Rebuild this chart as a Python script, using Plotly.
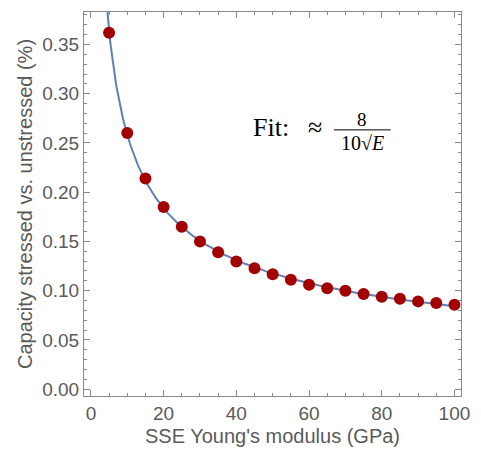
import numpy as np
import plotly.graph_objects as go

# Data
modulus_gpa = [5, 10, 15, 20, 25, 30, 35, 40, 45, 50, 55, 60, 65, 70, 75, 80, 85, 90, 95, 100]
capacity_ratio = [0.362, 0.260, 0.214, 0.185, 0.165, 0.150, 0.139, 0.1295, 0.1227, 0.1167,
                  0.111, 0.1059, 0.1025, 0.0998, 0.0965, 0.0937, 0.0917, 0.0891, 0.0874, 0.0857]

x_ticks = [0, 20, 40, 60, 80, 100]
y_ticks = [0.00, 0.05, 0.10, 0.15, 0.20, 0.25, 0.30, 0.35]
y_tick_labels = ["0.00", "0.05", "0.10", "0.15", "0.20", "0.25", "0.30", "0.35"]

# Least-squares fit a/sqrt(E) + c to the points
E = np.array(modulus_gpa, dtype=float)
Y = np.array(capacity_ratio)
A = np.vstack([1 / np.sqrt(E), np.ones_like(E)]).T
(a, c), *_ = np.linalg.lstsq(A, Y, rcond=None)
fit_x = np.linspace(4.0, 100, 400)
fit_y = a / np.sqrt(fit_x) + c

axis_color = "#8a8a8a"
text_color = "#5a5a5a"
sans = "Liberation Sans, Arial, sans-serif"

fig = go.Figure()
fig.add_trace(go.Scatter(x=fit_x, y=fit_y, mode="lines",
                         line=dict(color="#5E81B5", width=2), hoverinfo="skip"))
fig.add_trace(go.Scatter(x=modulus_gpa, y=capacity_ratio, mode="markers",
                         marker=dict(color="#A30000", size=12, line=dict(width=0))))

common = dict(showline=True, linecolor=axis_color, linewidth=1, mirror="ticks",
              ticks="inside", ticklen=6, tickcolor=axis_color, tickwidth=1,
              showgrid=False, zeroline=False,
              tickfont=dict(family=sans, size=19, color=text_color))

fig.update_xaxes(range=[-1.9, 101.8], tickvals=x_ticks,
                 minor=dict(dtick=5, tick0=0, ticks="inside", ticklen=3, tickcolor=axis_color, showgrid=False),
                 title=dict(text="SSE Young's modulus (GPa)", standoff=6,
                            font=dict(family=sans, size=20, color=text_color)),
                 **common)
fig.update_yaxes(range=[-0.007, 0.383], tickvals=y_ticks, ticktext=y_tick_labels,
                 minor=dict(dtick=0.01, tick0=0, ticks="inside", ticklen=3, tickcolor=axis_color, showgrid=False),
                 title=dict(text="Capacity stressed vs. unstressed (%)", standoff=4,
                            font=dict(family=sans, size=20, color=text_color)),
                 **common)

L, T, W, H = 84, 12, 386, 386


def px(x):
    return (x - L) / W


def py(y):
    return (T + H - y) / H


serif = "Liberation Serif, Times New Roman, serif"
fig.add_annotation(xref="paper", yref="paper", x=px(275), y=py(128),
                   text="Fit:", showarrow=False, xanchor="center", yanchor="middle",
                   font=dict(family=serif, size=26, color="black"))
fig.add_annotation(xref="paper", yref="paper", x=px(321), y=py(128),
                   text="\u2248", showarrow=False, xanchor="center", yanchor="middle",
                   font=dict(family=serif, size=26, color="black"))
fig.add_annotation(xref="paper", yref="paper", x=px(369), y=py(120),
                   text="8", showarrow=False, xanchor="center", yanchor="middle",
                   font=dict(family=serif, size=19, color="black"))
fig.add_annotation(xref="paper", yref="paper", x=px(369), y=py(144),
                   text="10\u221A<i>E</i>", showarrow=False, xanchor="center", yanchor="middle",
                   font=dict(family=serif, size=20, color="black"))
fig.add_shape(type="line", xref="paper", yref="paper",
              x0=px(340), x1=px(398), y0=py(130.5), y1=py(130.5),
              line=dict(color="black", width=1))

fig.update_layout(width=481, height=455, showlegend=False,
                  margin=dict(l=L, r=481 - L - W, t=T, b=455 - T - H),
                  plot_bgcolor="white", paper_bgcolor="white")

fig.write_html("out.html", config={"displayModeBar": False},
               post_script="document.body.style.margin='0';")
